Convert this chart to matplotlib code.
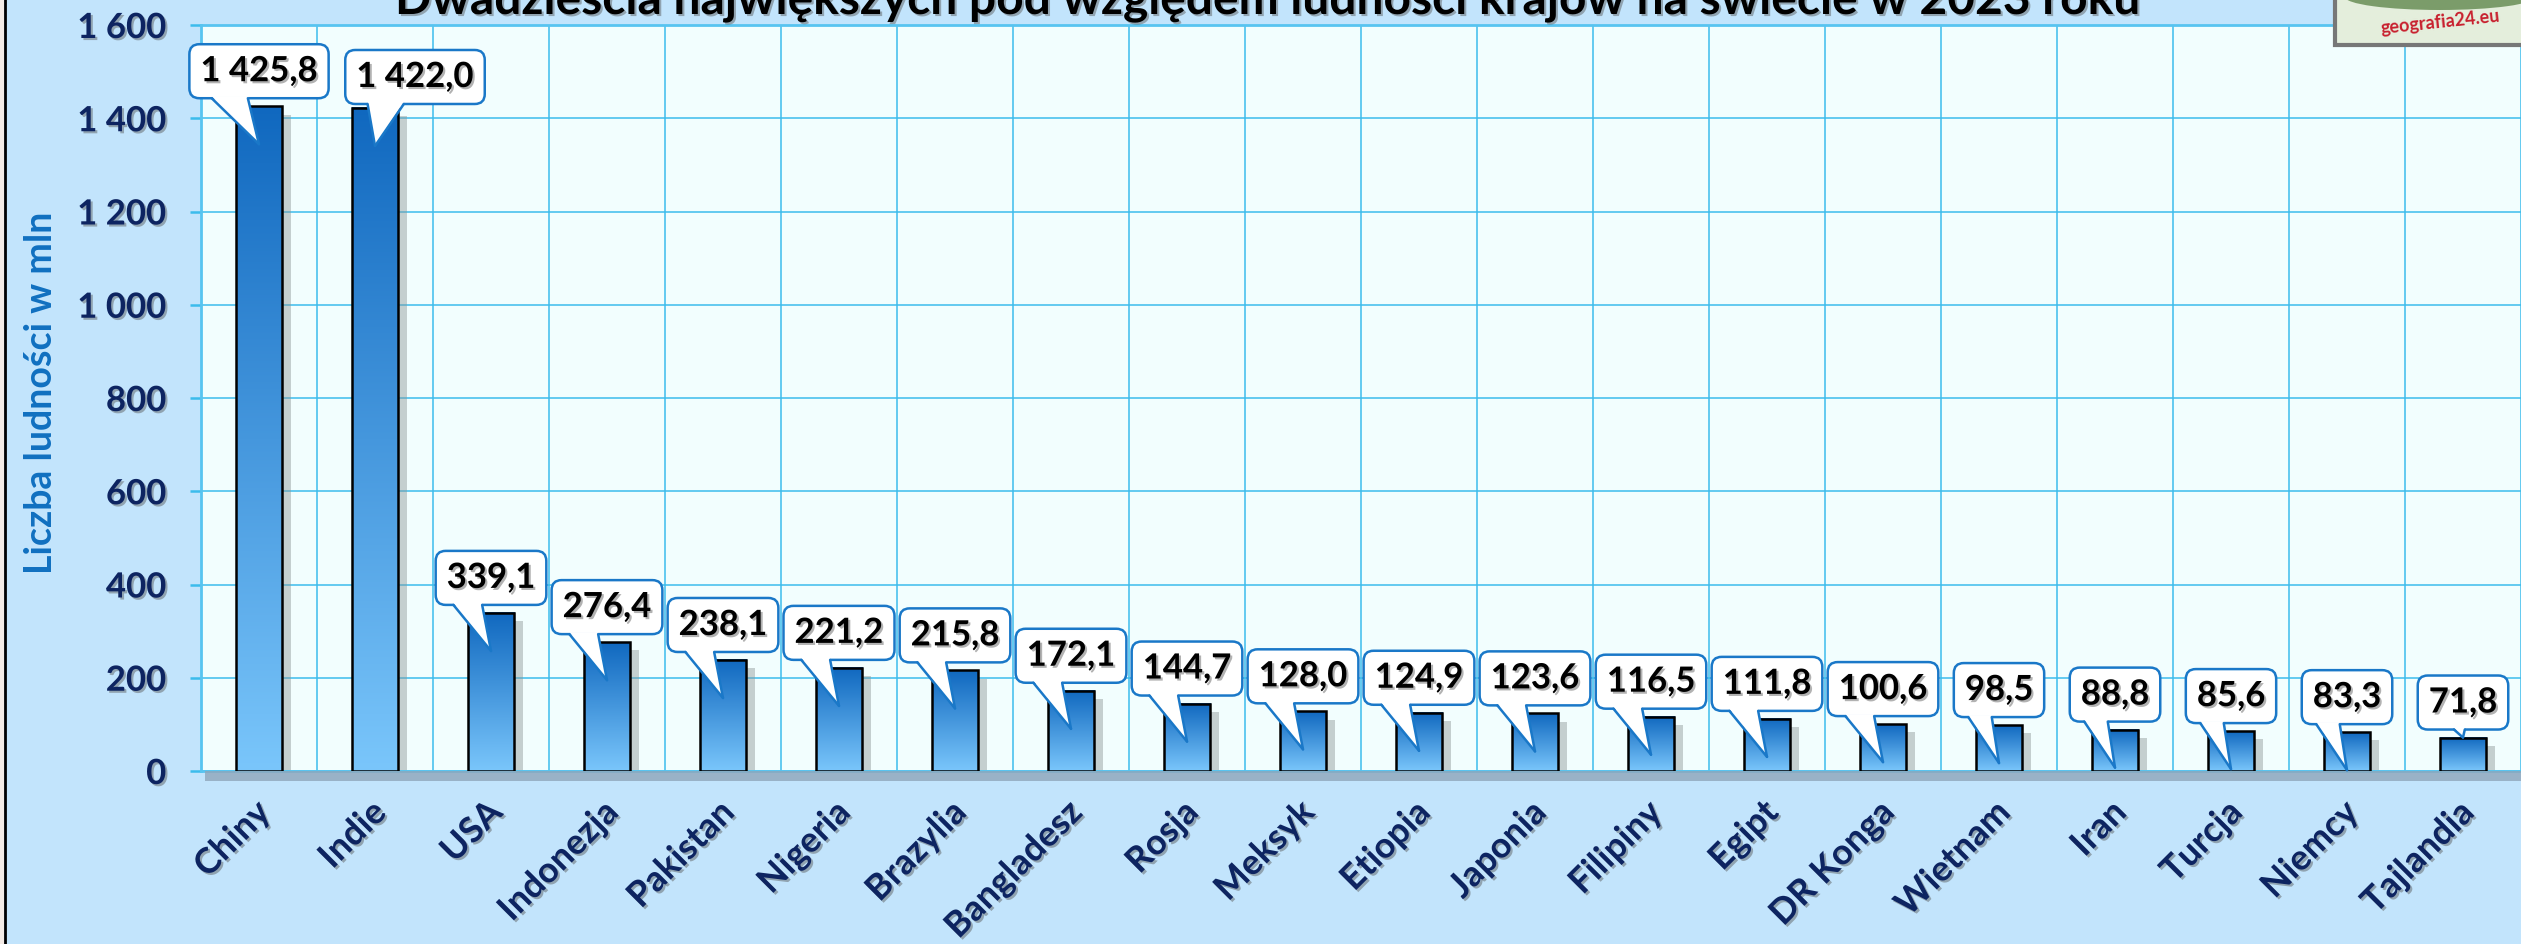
import numpy as np
import matplotlib
matplotlib.use("Agg")
import matplotlib.pyplot as plt
from matplotlib import patheffects as pe
from matplotlib.patches import FancyBboxPatch, Polygon, Rectangle, Ellipse
from matplotlib.colors import LinearSegmentedColormap
from matplotlib.lines import Line2D
from matplotlib.transforms import IdentityTransform, ScaledTranslation

# data
countries = ["Chiny", "Indie", "USA", "Indonezja", "Pakistan", "Nigeria", "Brazylia",
             "Bangladesz", "Rosja", "Meksyk", "Etiopia", "Japonia", "Filipiny", "Egipt",
             "DR Konga", "Wietnam", "Iran", "Turcja", "Niemcy", "Tajlandia"]
population = [1425.8, 1422.0, 339.1, 276.4, 238.1, 221.2, 215.8, 172.1, 144.7, 128.0,
              124.9, 123.6, 116.5, 111.8, 100.6, 98.5, 88.8, 85.6, 83.3, 71.8]
yticks = [0, 200, 400, 600, 800, 1000, 1200, 1400, 1600]
title = "Dwadzieścia największych pod względem ludności krajów na świecie w 2023 roku"
ylabel = "Liczba ludności w mln"
logo_text = "geografia24.eu"


def pl(v, dec=1):
    s = f"{v:,.{dec}f}"
    return s.replace(",", " ").replace(".", ",")


W, H, DPI = 2521, 945, 100
plt.rcParams['font.family'] = ['Lato', 'DejaVu Sans']
plt.rcParams['font.weight'] = 'bold'

navy = '#0d2461'
grid_c = '#3cbcec'
shadow = [pe.withSimplePatchShadow(offset=(1.5, -1.5), shadow_rgbFace='#555555', alpha=0.45)]

fig = plt.figure(figsize=(W / DPI, H / DPI), dpi=DPI, facecolor='#c2e4fc')
ax_left, ax_top, ax_bot = 201, 26, 772
ax = fig.add_axes([ax_left / W, (H - ax_bot) / H, (W - ax_left) / W, (ax_bot - ax_top) / H])
ax.set_facecolor('#f2fefe')

x = np.arange(len(countries))
bw = 0.405

# bars: shadow, gradient, edge
ax.bar(x, population, width=bw, color='#1068bf', zorder=2,
       path_effects=[pe.SimplePatchShadow(offset=(6, -6), shadow_rgbFace='#8c9696', alpha=0.45),
                     pe.Normal()])
cmap = LinearSegmentedColormap.from_list('bar', ['#7ac6fb', '#1068bf'])
grad = np.linspace(0, 1, 256).reshape(-1, 1)
for xi, v in zip(x, population):
    ax.imshow(grad, extent=[xi - bw / 2, xi + bw / 2, 0, v], origin='lower',
              aspect='auto', cmap=cmap, zorder=3)
ax.bar(x, population, width=bw, fill=False, edgecolor='black', linewidth=1.8, zorder=4)

ax.set_xlim(-0.5, len(countries) - 0.5)
ax.set_ylim(0, 1600)
ax.set_aspect('auto')

# grid
ax.set_yticks(yticks)
ax.set_yticklabels([pl(t, 0) for t in yticks])
ax.set_xticks(x)
ax.set_xticklabels(countries, rotation=45, ha='right', va='center', rotation_mode='anchor')
ax.set_xticks(np.arange(-0.5, len(countries), 1), minor=True)
ax.grid(which='minor', axis='x', color=grid_c, lw=1.1, zorder=1)
ax.grid(which='major', axis='y', color=grid_c, lw=1.1, zorder=1)
ax.tick_params(axis='x', which='both', length=0, pad=26, labelsize=25.5, labelcolor=navy)
ax.tick_params(axis='y', length=8, width=1.8, color=grid_c, pad=17, labelsize=25, labelcolor=navy)
for lab in ax.get_xticklabels():
    lab.set_transform(lab.get_transform() + ScaledTranslation(6 / DPI, 0, fig.dpi_scale_trans))
for lab in ax.get_xticklabels() + ax.get_yticklabels():
    lab.set_path_effects(shadow)
    lab.set_fontweight('bold')
for s in ['top', 'bottom', 'left']:
    ax.spines[s].set_color('#58c4f0')
    ax.spines[s].set_linewidth(2)
ax.spines['right'].set_visible(False)

# shadow under plot area
fig.add_artist(Rectangle((ax_left + 4, H - ax_bot - 10), W, 10, transform=IdentityTransform(),
                         facecolor='#8fa6ba', edgecolor='none', alpha=0.8, zorder=0.5))

fig.text(41 / W, 1 - 393 / H, ylabel, rotation=90, ha='center', va='center',
         fontsize=27, color='#1070c0', fontweight='bold')
fig.text(1266 / W, 1 - 15 / H, title, ha='center', va='baseline', fontsize=34.5,
         fontweight='bold', color='black', path_effects=shadow)

# callout labels (Indie's box is pushed right so it clears China's)
fig.canvas.draw()
rend = fig.canvas.get_renderer()
box_h, gap, padx = 54, 8, 11
edge_c = '#1a78c8'
shift = {1: (40, -4)}
for i, (xi, v) in enumerate(zip(x, population)):
    cx, ty = ax.transData.transform((xi, v))
    _, by = ax.transData.transform((xi, 0))
    dx, dy = shift.get(i, (0, 0))
    y0 = ty + gap + dy
    t = fig.text(cx + dx, y0 + box_h / 2, pl(v), transform=IdentityTransform(), ha='center',
                 va='center', fontsize=25, color='black', fontweight='bold',
                 zorder=8, path_effects=shadow)
    tw = t.get_window_extent(renderer=rend).width
    bwid = tw + 2 * padx
    x0 = cx + dx - bwid / 2
    fig.add_artist(FancyBboxPatch((x0, y0), bwid, box_h, boxstyle='round,pad=0,rounding_size=10',
                                  transform=IdentityTransform(), facecolor='white',
                                  edgecolor=edge_c, lw=1.8, zorder=6))
    if i == len(population) - 1:
        b1, b2, tip = x0 + 0.40 * bwid, x0 + 0.52 * bwid, (cx, ty)
    else:
        b1, b2 = x0 + 0.16 * bwid, x0 + 0.42 * bwid
        tip = (cx, max(ty - 38, by))
    fig.add_artist(Polygon([(b1, y0 + 2), (b2, y0 + 2), tip], closed=True,
                           transform=IdentityTransform(), facecolor='white',
                           edgecolor='none', zorder=7))
    for bx in (b1, b2):
        fig.add_artist(Line2D([bx, tip[0]], [y0, tip[1]], transform=IdentityTransform(),
                              color=edge_c, lw=1.8, zorder=7, solid_capstyle='round'))

# left frame line
fig.add_artist(Rectangle((0, 0), 3.5, H, transform=IdentityTransform(),
                         facecolor='#f4ebe6', edgecolor='none', zorder=9))
fig.add_artist(Line2D([4.8, 4.8], [0, H], transform=IdentityTransform(), color='black',
                      lw=2, zorder=9))

# logo
fig.add_artist(Rectangle((2335, H - 46), 200, 60, transform=IdentityTransform(),
                         facecolor='#e4eedc', edgecolor='#777777', lw=3, zorder=9))
fig.add_artist(Ellipse((2440, H + 2), 190, 26, transform=IdentityTransform(),
                       facecolor='#4f7a3a', edgecolor='none', alpha=0.7, zorder=9))
fig.text(2440, H - 22, logo_text, transform=IdentityTransform(), ha='center', va='center',
         fontsize=13, color='#c8202e', fontweight='bold', rotation=6, zorder=10)

fig.savefig('out.png', dpi=DPI, facecolor=fig.get_facecolor())
